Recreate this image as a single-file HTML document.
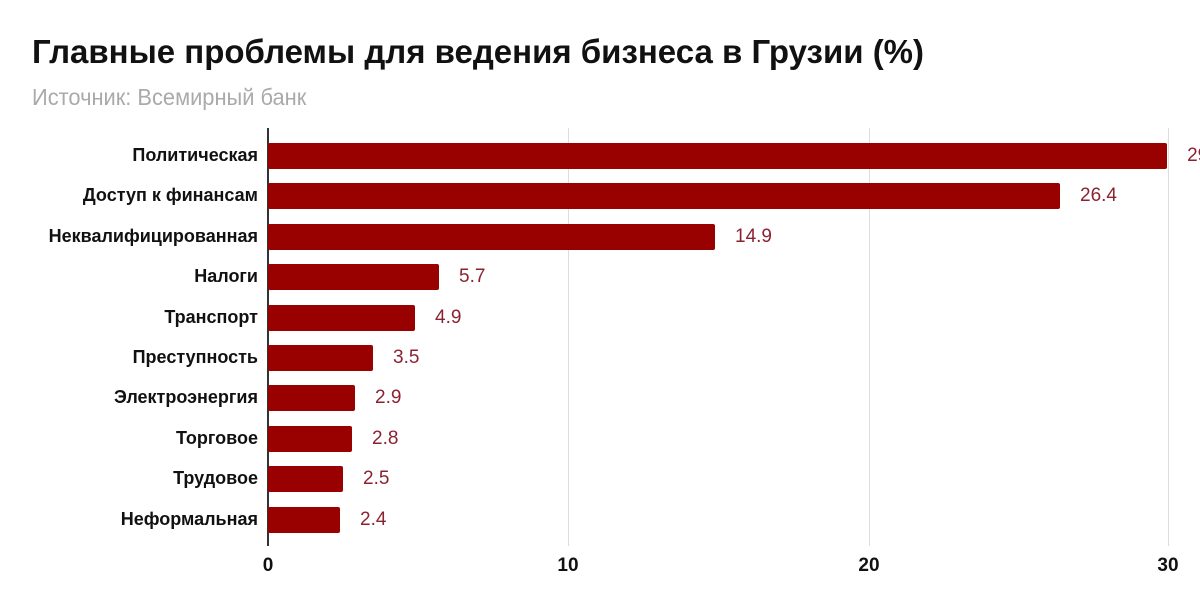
<!DOCTYPE html>
<html><head><meta charset="utf-8"><style>
body{margin:0;width:1200px;height:610px;background:#fff;overflow:hidden;font-family:"Liberation Sans",sans-serif;position:relative}
.t{position:absolute;left:32px;top:33px;font-size:33px;font-weight:bold;color:#111;white-space:nowrap}
.s{position:absolute;left:32px;top:84px;font-size:23px;color:#aaa;white-space:nowrap;transform:scaleX(0.95);transform-origin:left center}
.l{position:absolute;right:942px;font-size:18px;font-weight:bold;color:#111;white-space:nowrap}
.b{position:absolute;left:268px;height:26px;background:#990000;border-radius:2px}
.v{position:absolute;font-size:19px;color:#8b2232;white-space:nowrap}
.g{position:absolute;top:128px;height:418px;width:1px;background:#ddd}
.x{position:absolute;top:555px;font-size:19px;font-weight:bold;color:#111;transform:translateX(-50%)}
</style></head><body>
<div class="t">Главные проблемы для ведения бизнеса в Грузии (%)</div>
<div class="s">Источник: Всемирный банк</div>
<div class="g" style="left:568px"></div>
<div class="g" style="left:869px"></div>
<div class="g" style="left:1168px"></div>
<div style="position:absolute;left:267px;top:128px;width:2px;height:418px;background:#333"></div>
<div class="x" style="left:268px">0</div>
<div class="x" style="left:568px">10</div>
<div class="x" style="left:869px">20</div>
<div class="x" style="left:1168px">30</div>
<div id="c"></div>
<script>
var d=[["Политическая",29.97,"29.9"],["Доступ к финансам",26.4,"26.4"],["Неквалифицированная",14.9,"14.9"],["Налоги",5.7,"5.7"],["Транспорт",4.9,"4.9"],["Преступность",3.5,"3.5"],["Электроэнергия",2.9,"2.9"],["Торговое",2.8,"2.8"],["Трудовое",2.5,"2.5"],["Неформальная",2.4,"2.4"]];
var h="";d.forEach(function(r,i){var cy=156+i*40.4;var w=r[1]*30;
h+='<div class="l" style="top:'+(cy-11)+'px">'+r[0]+'</div>';
h+='<div class="b" style="top:'+(cy-13)+'px;width:'+w+'px"></div>';
h+='<div class="v" style="top:'+(cy-11)+'px;left:'+(268+w+20)+'px">'+r[2]+'</div>';});
document.getElementById("c").innerHTML=h;
</script>
</body></html>
